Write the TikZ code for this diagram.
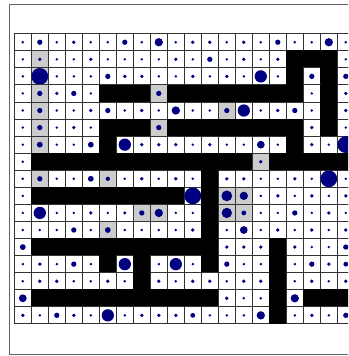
\documentclass[tikz,border=0pt]{standalone}
\definecolor{dotblue}{RGB}{0,0,128}
\definecolor{cellgray}{RGB}{204,204,204}
\definecolor{framegray}{RGB}{100,100,100}
\tikzset{
  cellborder/.style={draw=black!80, line width=0.9pt},
  wallcell/.style={fill=black},
  dotstyle/.style={fill=dotblue}
}
\begin{document}
\begin{tikzpicture}[x=1pt,y=-1pt]
\useasboundingbox (0,0) rectangle (348,356);
\clip (0,0) rectangle (348,356);
\fill[white] (0,0) rectangle (348,356);
\draw[framegray, line width=0.9pt] (9.7,4.3) rectangle (420,354.3);
\foreach \rowdata [count=\r from 0] in {%
{2.4,5,2.4,3.4,2.4,2.4,5,2.4,8,2.4,3.4,3.4,2.4,3.4,2.4,5,2.4,2.4,8,2.4},%
{2.4,-3.4,2.4,2.4,3.4,2.4,2.4,2.4,2.4,3.4,2.4,5,2.4,3.4,2.4,3.4,0,0,0,2.4},%
{2.4,-16.5,2.4,2.4,2.4,5,3.4,3.4,2.4,2.4,3.4,2.4,3.4,2.4,12,2.4,0,5,0,5},%
{2.4,-5,3.4,5,2.4,0,0,0,-5,0,0,0,0,0,0,0,0,2.4,0,3.4},%
{2.4,-5,2.4,2.4,3.4,5,2.4,3.4,2.4,8,2.4,2.4,-5,12,2.4,3.4,5,2.4,0,3.4},%
{2.4,-5,2.4,3.4,2.4,0,0,0,-5,0,0,0,0,0,0,0,0,3.4,0,2.4},%
{2.4,-5.5,2.4,2.4,5.5,0,12,3.4,3.4,3.4,2.4,3.4,2.4,2.4,7.5,2.4,0,3.4,2.4,16.5},%
{2.4,0,0,0,0,0,0,0,0,0,0,0,0,0,-3.4,0,0,0,0,0},%
{2.4,-5,2.4,2.4,5.5,-4,2.4,3.4,2.4,3.4,2.4,0,3.4,3.4,2.4,2.4,3.4,2.4,16.5,2.4},%
{2.4,0,0,0,0,0,0,0,0,0,16.5,0,-10.5,-8,2.4,3.4,2.4,3.4,2.4,3.4},%
{2.4,12,2.4,2.4,3.4,2.4,3,-5,-8,2.4,2.4,0,-10,-4.5,2.4,2.4,5,2.4,3.4,2.4},%
{2.4,2.4,2.4,5,2.4,-5.5,2.4,2.4,2.4,2.4,3.4,0,2.4,7.5,2.4,3.4,2.4,3.4,2.4,3.4},%
{5.5,0,0,0,0,0,0,0,0,0,0,0,3.4,3.4,3.4,0,3.4,2.4,2.4,5},%
{2.4,3.4,2.4,5,2.4,0,12,0,2.4,12,2.4,0,5,2.4,2.4,0,2.4,5,3.4,4.5},%
{2.4,3.4,3.4,2.4,2.4,3.4,2.4,0,3.4,2.4,3.4,3.4,2.4,3.4,3.4,0,2.4,3.4,2.4,3.4},%
{7.5,0,0,0,0,0,0,0,0,0,0,0,3.4,2.4,2.4,0,8,0,0,0},%
{3.4,2.4,5,3.4,2.4,12,2.4,3.4,3.4,3.4,4.5,2.4,2.4,2.4,8,0,2.4,3.4,2.4,5}%
}{%
  \foreach \d [count=\c from 0] in \rowdata {%
    \pgfmathsetmacro\xa{14.3+17*\c}%
    \pgfmathsetmacro\ya{33.7+17.07*\r}%
    \pgfmathsetmacro\kind{(\d==0) ? 0 : ((\d<0) ? 1 : 2)}%
    \pgfmathsetmacro\rad{abs(\d)/2+0.15}%
    \ifdim \kind pt=0pt
      \fill[wallcell] (\xa-0.4,\ya-0.4) rectangle ++(17.8,17.87);
    \else
      \ifdim \kind pt=1pt
        \filldraw[fill=cellgray, cellborder] (\xa,\ya) rectangle ++(17,17.07);
      \else
        \filldraw[fill=white, cellborder] (\xa,\ya) rectangle ++(17,17.07);
      \fi
      \fill[dotstyle] (\xa+8.5,\ya+8.535) circle[radius=\rad pt];
    \fi
  }%
}
\end{tikzpicture}
\end{document}
